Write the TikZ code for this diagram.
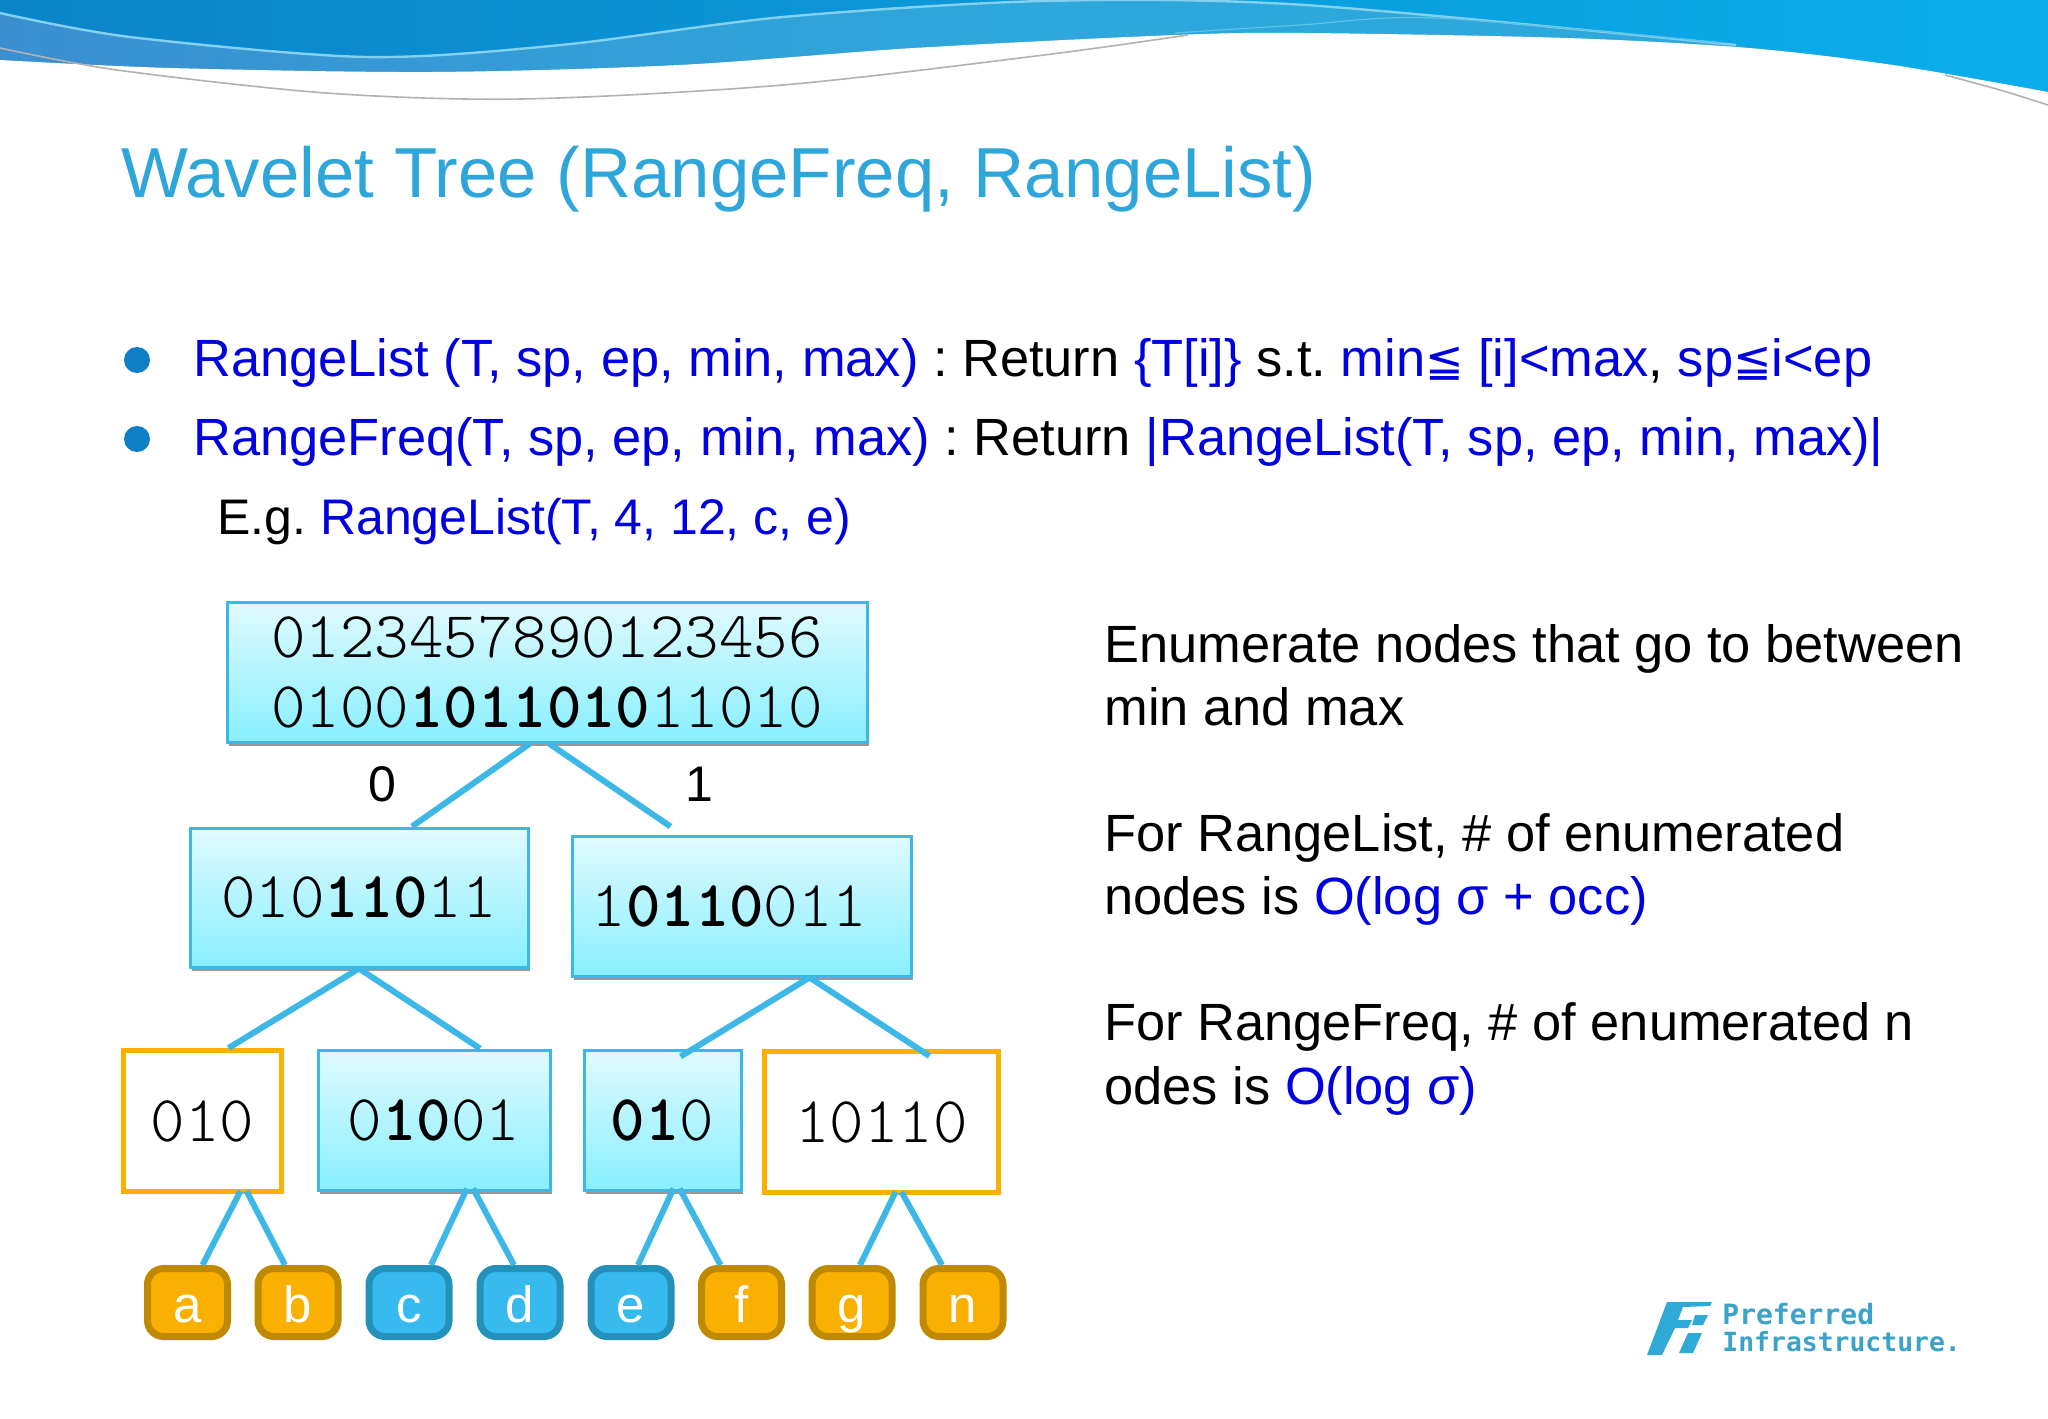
\documentclass[tikz,border=0pt]{standalone}
\usepackage{fontspec}
\setmainfont{Liberation Sans}
\newfontfamily\symfont{DejaVu Sans}
\newfontfamily\logofont{DejaVu Sans Mono}
\usetikzlibrary{arrows.meta, positioning, calc, shadows}
\definecolor{bandtop}{RGB}{11, 132, 200}
\definecolor{bandtopr}{RGB}{10, 174, 235}
\definecolor{bandlow}{RGB}{46, 168, 220}
\definecolor{bandlowl}{RGB}{58, 143, 208}
\definecolor{titleblue}{RGB}{46, 166, 218}
\definecolor{kwblue}{RGB}{0, 0, 225}
\definecolor{dotblue}{RGB}{15, 126, 199}
\definecolor{boxline}{RGB}{61, 184, 230}
\definecolor{boxtop}{RGB}{224, 250, 255}
\definecolor{boxlow}{RGB}{136, 239, 255}
\definecolor{hitorange}{RGB}{249, 176, 0}
\definecolor{leafdark}{RGB}{191, 138, 0}
\definecolor{leafblue}{RGB}{55, 187, 239}
\definecolor{leafbluedark}{RGB}{35, 145, 185}
\definecolor{logoblue}{RGB}{47, 169, 214}
\newcommand{\kw}[1]{\textcolor{kwblue}{#1}}
\newcommand{\hit}[1]{{\fontseries{b}\selectfont #1}}
\newcommand{\leqq}{{\fontsize{23}{30}\symfont≦}}
\tikzset{
  bitfont/.style={font=\fontsize{32.8}{35}\ttfamily\fontseries{l}\selectfont, align=center},
  bitbox/.style={bitfont, draw=boxline, line width=1.5pt, top color=boxtop, bottom color=boxlow,
    inner sep=0pt, drop shadow={shadow xshift=1pt, shadow yshift=-2pt, opacity=.4, fill=black}},
  hitbox/.style={bitfont, draw=hitorange, line width=2.5pt, fill=white, inner sep=0pt},
  leafbase/.style={line width=3.5pt, rounded corners=8pt, inner sep=0pt, minimum width=40pt, minimum height=34pt,
    text=white, font=\fontsize{25.5}{25.5}\selectfont, text height=24pt, text depth=4.5pt},
  leafhit/.style={leafbase, draw=leafdark, fill=hitorange},
  leafmiss/.style={leafbase, draw=leafbluedark, fill=leafblue},
  link/.style={draw=boxline, line width=3pt},
  bullettext/.style={anchor=base west, inner sep=0pt, font=\fontsize{26.2}{30}\selectfont},
  sidetext/.style={anchor=base west, inner sep=0pt, font=\fontsize{26.2}{30}\selectfont},
}
\begin{document}
\frenchspacing
\begin{tikzpicture}[x=0.5pt, y=-0.5pt]
  \useasboundingbox (0,0) rectangle (2048,1418);

  % Header waves
  \shade[left color=bandtop, right color=bandtopr] (0,0) rectangle (2048,110);
  \shade[left color=bandlowl, right color=bandlow, middle color=bandlow] plot[smooth] coordinates {(0,13) (130,37) (366,57) (561,45) (783,17) (1044,1) (1305,5) (1736,45)}
    -- (1749,48) -- (2048,92) -- (2048,140) -- (0,140) -- cycle;
  \draw[white!35!boxline, line width=1.2pt] plot[smooth] coordinates {(0,13) (130,37) (366,57) (561,45) (783,17) (1044,1) (1305,5) (1736,45)};
  \draw[white!15!boxline, line width=.6pt] plot[smooth] coordinates {(1175,33) (1300,25) (1436,18) (1723,43)};
  \fill[white] plot[smooth] coordinates {(0,60) (170,68) (431,72) (679,65) (914,48) (1175,35) (1305,33) (1567,38) (1749,48) (1893,65) (2048,92)}
    -- (2048,150) -- (0,150) -- cycle;
  \draw[black!30, line width=.8pt] plot[smooth] coordinates {(0,48) (117,70) (326,93) (522,99) (783,85) (1044,55) (1188,35)};
  \draw[black!30, line width=.8pt] plot[smooth] coordinates {(1945,75) (2000,90) (2048,105)};

  % Title and bullets
  \node[anchor=base west, inner sep=0pt, text=titleblue, font=\fontsize{35.4}{40}\selectfont] (title) at (121,197) {Wavelet Tree (RangeFreq, RangeList)};
  \fill[dotblue] (137,360) circle (6.5pt);
  \fill[dotblue] (137,439) circle (6.5pt);
  \node[bullettext] (listline) at (193,376) {\kw{RangeList (T, sp, ep, min, max)} : Return \kw{\{T[i]\}} s.t. \kw{min\leqq{} [i]<max}, \kw{sp\leqq{}i<ep}};
  \node[bullettext] (freqline) at (193,455) {\kw{RangeFreq(T, sp, ep, min, max)} : Return \kw{|RangeList(T, sp, ep, min, max)|}};
  \node[bullettext, font=\fontsize{25}{30}\selectfont] (egline) at (217,534) {E.g. \kw{RangeList(T, 4, 12, c, e)}};

  % Right column
  \node[sidetext] (enumA) at (1104,662) {Enumerate nodes that go to between};
  \node[sidetext] (enumB) at (1104,725) {min and max};
  \node[sidetext] (listA) at (1104,851) {For RangeList, \# of enumerated};
  \node[sidetext] (listB) at (1104,914) {nodes is \kw{O(log σ + occ)}};
  \node[sidetext] (freqA) at (1104,1040) {For RangeFreq, \# of enumerated n};
  \node[sidetext] (freqB) at (1104,1104) {odes is \kw{O(log σ)}};

  % Tree boxes
  \node[bitbox, minimum width=320pt, minimum height=70pt] (root) at (547,672) {0123457890123456\\0100\hit{1011010}11010};
  \node[bitbox, minimum width=169pt, minimum height=69.5pt] (left) at (359,897.5) {010\hit{110}11};
  \node[bitbox, minimum width=169.5pt, minimum height=70pt] (right) at (741.5,906) {1\hit{0110}011\kern12pt};
  \node[hitbox, minimum width=79pt, minimum height=70.5pt] (ac) at (202.5,1121) {010};
  \node[bitbox, minimum width=116pt, minimum height=70pt] (cd) at (434,1120) {0\hit{10}01};
  \node[bitbox, minimum width=78.5pt, minimum height=70pt] (ef) at (662.5,1120) {\hit{01}0};
  \node[hitbox, minimum width=117pt, minimum height=70.5pt] (gn) at (881.5,1122) {10110};

  % Leaves
  \foreach \name/\xpos/\kind in {a/187.5/leafhit, b/298/leafhit, c/409/leafmiss, d/520/leafmiss, e/631/leafmiss, f/741.5/leafhit, g/852/leafhit, n/963/leafhit}
    \node[\kind] (\name) at (\xpos,1302.5) {\name};

  % Edges
  \draw[link] ($(root.south)+(-17,0)$) -- ($(left.north)+(53,0)$);
  \draw[link] ($(root.south)+(2,0)$) -- ($(right.north)+(-71,-8)$);
  \draw[link] (left.south) -- ($(ac.north)+(26,0)$);
  \draw[link] (left.south) -- ($(cd.north)+(46,0)$);
  \draw[link] ($(right.south)+(68,0)$) -- ($(ef.north)+(18,8)$);
  \draw[link] ($(right.south)+(68,0)$) -- ($(gn.north)+(48,7)$);
  \foreach \parent/\lx/\rx/\lkid/\rkid/\lend/\rend in {ac/38/44/a/b/15/-13, cd/33/39/c/d/22/-6, ef/11/17/e/f/7/-21, gn/14/20/g/n/8/-21} {
    \draw[link] ($(\parent.south)+(\lx,-3)$) -- ($(\lkid.north)+(\lend,0)$);
    \draw[link] ($(\parent.south)+(\rx,-3)$) -- ($(\rkid.north)+(\rend,0)$);
  }

  % Edge labels
  \node[font=\fontsize{25}{25}\selectfont] (zero) at (382,784) {0};
  \node[font=\fontsize{25}{25}\selectfont] (one) at (699,784) {1};

  % Logo
  \fill[logoblue] (1667,1302) -- (1712,1302) -- (1710,1306) -- (1683,1307) -- (1678,1320) -- (1692,1320) -- (1688,1328) -- (1675,1328) -- (1662,1355) -- (1647,1355) -- cycle;
  \fill[logoblue] (1695,1315) -- (1708,1315) -- (1703,1325) -- (1692,1325) -- cycle;
  \fill[logoblue] (1688,1333) -- (1702,1333) -- (1693,1353) -- (1679,1353) -- cycle;
  \node[anchor=base west, inner sep=0pt, text=logoblue!85!gray, font=\fontsize{14}{14}\logofont\bfseries] (logoA) at (1722,1324) {Preferred};
  \node[anchor=base west, inner sep=0pt, text=logoblue!85!gray, font=\fontsize{13.2}{14}\logofont\bfseries] (logoB) at (1722,1351) {Infrastructure.};
\end{tikzpicture}
\end{document}
